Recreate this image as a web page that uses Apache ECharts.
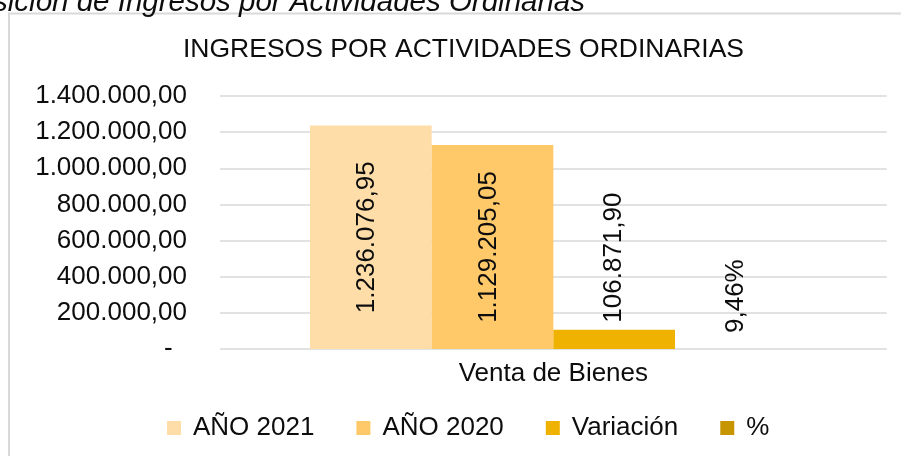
<!DOCTYPE html>
<html>
<head>
<meta charset="utf-8">
<script src="https://cdn.jsdelivr.net/npm/echarts@6/dist/echarts.min.js"></script>
<style>
  html, body { margin: 0; padding: 0; background: #fff; }
  #chart { width: 901px; height: 456px; }
</style>
</head>
<body>
<div id="chart"></div>
<script>
// Ingresos por actividades ordinarias: comparación 2021 / 2020
const categories = ['Venta de Bienes'];
const seriesNames = ['AÑO 2021', 'AÑO 2020', 'Variación', '%'];
const anio2021 = [1236076.95];
const anio2020 = [1129205.05];
const variacion = [106871.90];
const porcentaje = [9.46];
const yAxisMax = 1400000;
const yAxisStep = 200000;

const FONT = '"Liberation Sans", Arial, sans-serif';
const TEXT = '#0d0d0d';
const colors = ['#FFDDA9', '#FFC96A', '#EFB200', '#C69500'];

// Spanish number format: 1.236.076,95
function fmtEs(v, dec) {
  const parts = Math.abs(v).toFixed(dec).split('.');
  const ip = parts[0].replace(/\B(?=(\d{3})+(?!\d))/g, '.');
  return (v < 0 ? '-' : '') + ip + (dec > 0 ? ',' + parts[1] : '');
}

const chart = echarts.init(document.getElementById('chart'), null, { renderer: 'canvas' });

const insideLabel = {
  show: true,
  position: 'inside',
  rotate: 90,
  offset: [0, -4],
  fontFamily: FONT,
  fontSize: 26,
  color: TEXT,
  formatter: p => fmtEs(p.value, 2)
};

chart.setOption({
  backgroundColor: '#ffffff',
  animation: false,
  color: colors,
  title: {
    text: 'INGRESOS POR ACTIVIDADES ORDINARIAS',
    left: 183,
    top: 36,
    padding: 0,
    textStyle: { fontFamily: FONT, fontSize: 26.5, fontWeight: 'normal', color: TEXT }
  },
  legend: {
    data: seriesNames,
    left: 167,
    top: 415,
    padding: 0,
    itemWidth: 14,
    itemHeight: 14,
    itemGap: 42,
    icon: 'rect',
    textStyle: { fontFamily: FONT, fontSize: 26, color: TEXT, padding: [0, 0, 0, 7] }
  },
  grid: { left: 220, right: 14.3, top: 96, bottom: 107, containLabel: false },
  xAxis: {
    type: 'category',
    data: categories,
    axisLine: { show: false },
    axisTick: { show: false },
    axisLabel: { margin: 12, fontFamily: FONT, fontSize: 26, color: TEXT }
  },
  yAxis: {
    type: 'value',
    min: 0,
    max: yAxisMax,
    interval: yAxisStep,
    axisLine: { show: false },
    axisTick: { show: false },
    splitLine: { lineStyle: { color: '#d9d9d9', width: 1.5 } },
    axisLabel: {
      margin: 33,
      fontFamily: FONT,
      fontSize: 26,
      color: TEXT,
      formatter: v => (v === 0 ? '-  ' : fmtEs(v, 2))
    }
  },
  graphic: [
    {
      type: 'rect',
      silent: true,
      shape: { x: 9, y: 13.5, width: 1200, height: 1200 },
      style: { fill: 'none', stroke: '#d9d9d9', lineWidth: 2 }
    },
    {
      type: 'text',
      silent: true,
      x: 585,
      y: 3,
      style: {
        text: 'Composición de Ingresos por Actividades Ordinarias',
        font: 'italic 29.5px ' + FONT,
        fill: TEXT,
        align: 'right',
        verticalAlign: 'middle'
      }
    }
  ],
  series: [
    {
      name: seriesNames[0], type: 'bar', data: anio2021,
      barGap: '0%', barCategoryGap: '27%',
      label: insideLabel
    },
    {
      name: seriesNames[1], type: 'bar', data: anio2020,
      barGap: '0%', barCategoryGap: '27%',
      label: insideLabel
    },
    {
      name: seriesNames[2], type: 'bar', data: variacion,
      barGap: '0%', barCategoryGap: '27%',
      label: {
        show: true, position: 'top', rotate: 90, distance: 7,
        align: 'left', verticalAlign: 'middle',
        fontFamily: FONT, fontSize: 26, color: TEXT,
        formatter: p => fmtEs(p.value, 2)
      }
    },
    {
      name: seriesNames[3], type: 'bar', data: porcentaje,
      barGap: '0%', barCategoryGap: '27%',
      label: {
        show: true, position: 'top', rotate: 90, distance: 16,
        align: 'left', verticalAlign: 'middle',
        fontFamily: FONT, fontSize: 26, color: TEXT,
        formatter: p => fmtEs(p.value, 2) + '%'
      }
    }
  ]
});
</script>
</body>
</html>
